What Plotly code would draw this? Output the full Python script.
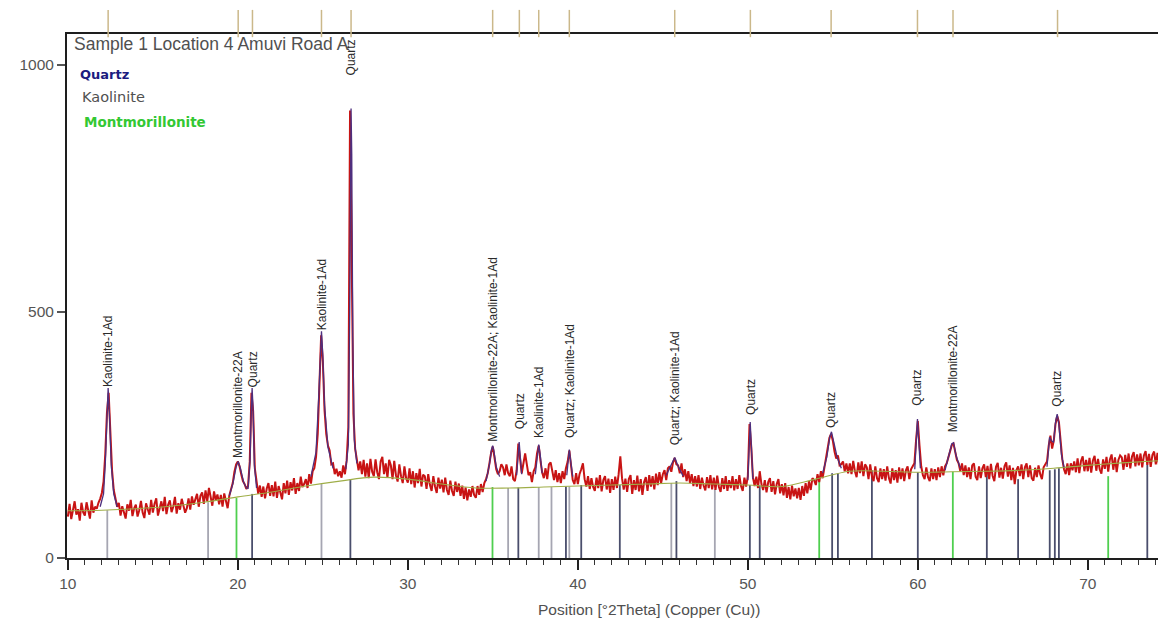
import numpy as np
import plotly.graph_objects as go

# ---------------- data ----------------
two_theta_start = 10.0
two_theta_step = 0.1

# observed counts, one row per degree (d.0 ... d.9)
counts_rows = [
    [84, 110, 79, 101, 115, 88, 99, 76, 112, 93],         # 10
    [86, 113, 95, 80, 117, 92, 104, 100, 112, 120],       # 11
    [132, 155, 210, 295, 335, 262, 178, 138, 120, 104],   # 12
    [112, 86, 105, 91, 80, 109, 96, 118, 85, 101],        # 13
    [108, 84, 97, 116, 92, 81, 111, 99, 88, 118],         # 14
    [92, 110, 121, 86, 104, 115, 95, 124, 89, 108],       # 15
    [117, 93, 104, 124, 90, 111, 98, 120, 106, 92],       # 16
    [101, 121, 98, 125, 108, 119, 130, 104, 126, 133],    # 17
    [110, 137, 115, 142, 124, 106, 135, 117, 129, 109],   # 18
    [128, 104, 131, 112, 101, 127, 138, 152, 175, 190],   # 19
    [196, 186, 170, 156, 150, 140, 146, 195, 335, 298],   # 20
    [182, 150, 130, 147, 124, 145, 121, 141, 152, 126],   # 21
    [148, 125, 155, 122, 146, 133, 119, 152, 131, 157],   # 22
    [128, 154, 137, 162, 130, 152, 136, 165, 144, 150],   # 23
    [160, 142, 170, 151, 176, 182, 205, 252, 360, 452],   # 24
    [398, 300, 252, 228, 218, 190, 192, 170, 181, 166],   # 25
    [176, 163, 188, 170, 198, 265, 908, 610, 292, 222],   # 26
    [204, 178, 196, 170, 199, 165, 192, 162, 201, 175],   # 27
    [166, 200, 174, 160, 196, 205, 170, 192, 163, 199],   # 28
    [188, 160, 197, 168, 155, 190, 166, 152, 186, 162],   # 29
    [153, 182, 150, 176, 143, 172, 152, 181, 145, 169],   # 30
    [166, 140, 170, 148, 136, 166, 145, 132, 163, 141],   # 31
    [159, 133, 163, 138, 128, 157, 136, 126, 155, 134],   # 32
    [151, 126, 147, 120, 143, 117, 139, 124, 146, 128],   # 33
    [122, 146, 128, 150, 134, 152, 160, 172, 192, 214],   # 34
    [226, 202, 180, 170, 176, 190, 184, 168, 190, 172],   # 35
    [166, 186, 160, 156, 178, 232, 206, 172, 192, 212],   # 36
    [190, 168, 174, 154, 176, 184, 212, 228, 198, 174],   # 37
    [162, 182, 160, 190, 194, 172, 158, 178, 154, 172],   # 38
    [152, 176, 160, 182, 195, 218, 188, 158, 150, 172],   # 39
    [150, 170, 180, 192, 160, 145, 166, 140, 162, 144],   # 40
    [136, 163, 142, 168, 135, 158, 166, 139, 161, 132],   # 41
    [160, 138, 165, 142, 170, 206, 162, 139, 161, 134],   # 42
    [160, 168, 130, 158, 138, 167, 135, 160, 128, 154],   # 43
    [164, 136, 168, 145, 166, 139, 171, 148, 174, 152],   # 44
    [170, 178, 158, 182, 186, 175, 194, 203, 190, 188],   # 45
    [172, 192, 164, 180, 156, 176, 152, 170, 146, 166],   # 46
    [145, 168, 140, 163, 147, 137, 164, 142, 168, 139],   # 47
    [163, 138, 167, 144, 134, 162, 140, 166, 136, 158],   # 48
    [142, 166, 137, 160, 140, 168, 146, 136, 163, 145],   # 49
    [166, 272, 226, 164, 146, 165, 142, 176, 150, 138],   # 50
    [158, 133, 154, 162, 134, 156, 129, 150, 160, 131],   # 51
    [150, 127, 152, 122, 144, 119, 147, 125, 141, 121],   # 52
    [142, 118, 146, 126, 152, 131, 156, 138, 162, 158],   # 53
    [148, 170, 154, 176, 162, 184, 198, 220, 244, 252],   # 54
    [238, 216, 202, 208, 188, 190, 196, 176, 192, 172],   # 55
    [192, 170, 197, 176, 164, 194, 172, 196, 166, 190],   # 56
    [184, 160, 190, 166, 156, 186, 162, 154, 182, 160],   # 57
    [180, 157, 186, 162, 151, 182, 158, 178, 153, 184],   # 58
    [160, 182, 156, 178, 186, 160, 180, 186, 192, 240],   # 59
    [278, 228, 186, 168, 160, 184, 164, 156, 182, 160],   # 60
    [180, 158, 184, 164, 186, 168, 186, 192, 204, 219],   # 61
    [229, 232, 214, 199, 192, 176, 192, 168, 188, 164],   # 62
    [184, 160, 188, 192, 165, 158, 186, 162, 182, 190],   # 63
    [164, 187, 160, 191, 167, 156, 185, 193, 163, 183],   # 64
    [161, 186, 194, 165, 188, 158, 183, 150, 178, 186],   # 65
    [166, 190, 160, 184, 192, 164, 188, 162, 157, 183],   # 66
    [164, 188, 170, 160, 184, 190, 196, 228, 248, 222],   # 67
    [238, 272, 288, 276, 232, 200, 180, 170, 192, 168],   # 68
    [192, 178, 196, 174, 202, 172, 197, 206, 176, 199],   # 69
    [176, 203, 173, 198, 207, 177, 201, 180, 171, 200],   # 70
    [181, 205, 175, 200, 210, 179, 204, 174, 199, 208],   # 71
    [204, 179, 209, 185, 212, 182, 206, 215, 186, 210],   # 72
    [188, 212, 184, 208, 217, 189, 211, 185, 209, 216],   # 73
    [190, 213, 185, 209, 188, 212, 182, 206, 210, 187],   # 74
]

# fitted background
background_x = [10, 12, 14, 16, 18, 20, 22, 24, 26, 28, 30, 32, 34, 36, 38, 40, 42, 44, 46,
                48, 50, 52, 54, 56, 58, 60, 62, 64, 66, 68, 70, 72, 74.9]
background_y = [96, 97, 100, 105, 113, 124, 134, 146, 156, 164, 160, 150, 142, 142, 144, 146,
                148, 150, 152, 150, 148, 145, 160, 176, 176, 174, 175, 176, 178, 182, 188, 193, 199]

# calculated profile around identified peaks (None separates peaks)
profile_x = [11.9, 12.1, 12.2, 12.3, 12.37, 12.45, 12.55, 12.7, 12.9, None,
             19.5, 19.7, 19.9, 20.02, 20.15, 20.35, 20.55, None,
             20.6, 20.72, 20.8, 20.84, 20.9, 20.97, 21.1, None,
             24.3, 24.6, 24.75, 24.85, 24.92, 25.0, 25.1, 25.3, 25.6, None,
             26.35, 26.5, 26.58, 26.63, 26.66, 26.7, 26.76, 26.85, 27.0, None,
             34.6, 34.8, 34.92, 34.99, 35.06, 35.2, 35.4, None,
             36.4, 36.5, 36.55, 36.6, 36.7, None,
             37.5, 37.62, 37.7, 37.78, 37.9, None,
             39.35, 39.45, 39.5, 39.56, 39.7, None,
             45.2, 45.5, 45.7, 45.9, 46.2, None,
             50.0, 50.08, 50.14, 50.2, 50.3, None,
             54.4, 54.65, 54.82, 54.92, 55.05, 55.25, 55.5, None,
             59.82, 59.92, 59.98, 60.05, 60.15, None,
             61.6, 61.85, 62.0, 62.1, 62.25, 62.5, None,
             67.6, 67.75, 67.85, 67.98, 68.12, 68.2, 68.3, 68.45, 68.6]
profile_y = [104, 130, 190, 290, 345, 290, 190, 130, 104, None,
             126, 150, 185, 196, 182, 152, 140, None,
             140, 200, 310, 345, 300, 190, 142, None,
             165, 215, 320, 430, 460, 410, 310, 225, 182, None,
             180, 230, 500, 860, 912, 820, 450, 240, 192, None,
             156, 190, 220, 228, 218, 185, 165, None,
             168, 215, 235, 212, 170, None,
             170, 215, 230, 212, 172, None,
             168, 205, 220, 202, 165, None,
             168, 188, 204, 186, 166, None,
             158, 235, 276, 232, 160, None,
             172, 205, 245, 256, 236, 205, 182, None,
             180, 245, 282, 240, 182, None,
             178, 212, 232, 234, 208, 182, None,
             185, 245, 238, 235, 280, 292, 270, 210, 184]

# identified peaks and their labels
peak_pos = [12.37, 20.02, 20.86, 24.92, 26.66, 34.99, 36.56, 37.7, 39.5, 45.7,
            50.15, 54.9, 59.98, 62.07, 68.22]
peak_labels = ["Kaolinite-1Ad", "Montmorillonite-22A", "Quartz", "Kaolinite-1Ad", "Quartz",
               "Montmorillonite-22A; Kaolinite-1Ad", "Quartz", "Kaolinite-1Ad",
               "Quartz; Kaolinite-1Ad", "Quartz; Kaolinite-1Ad", "Quartz", "Quartz", "Quartz",
               "Montmorillonite-22A", "Quartz"]
label_y = [342, 198, 343, 458, 975, 232, 258, 240, 240, 224, 287, 260, 306, 250, 302]

# reference pattern sticks
quartz_pos = [20.84, 26.62, 36.5, 39.3, 40.2, 42.47, 45.8, 50.12, 50.7, 54.96, 55.3, 57.3,
              60.0, 64.06, 65.9, 67.76, 68.06, 68.3, 73.5]
quartz_top = [130, 160, 143, 145, 148, 148, 156, 148, 147, 172, 172, 178,
              174, 176, 160, 178, 180, 182, 190]
kaolinite_pos = [12.32, 18.25, 24.92, 35.9, 37.7, 38.45, 39.5, 45.5, 48.06]
kaolinite_top = [97, 113, 150, 142, 144, 144, 145, 152, 140]
montmorillonite_pos = [19.92, 34.98, 54.2, 62.06, 71.2]
montmorillonite_top = [122, 144, 158, 175, 166]

x_range = [9.95, 74.6]
y_range = [0, 1063]

# ---------------- figure ----------------
counts = [v for row in counts_rows for v in row]
two_theta = np.round(two_theta_start + two_theta_step * np.arange(len(counts)), 2)


def sticks(pos, top):
    xs, ys = [], []
    for p, t in zip(pos, top):
        xs += [p, p, None]
        ys += [0, t, None]
    return xs, ys


fig = go.Figure()

for pos, top, col, w in [(kaolinite_pos, kaolinite_top, "#a6a6b2", 1.8),
                         (quartz_pos, quartz_top, "#4a4e6c", 1.8),
                         (montmorillonite_pos, montmorillonite_top, "#4fcf4f", 1.8)]:
    sx, sy = sticks(pos, top)
    fig.add_trace(go.Scatter(x=sx, y=sy, mode="lines", line=dict(color=col, width=w),
                             hoverinfo="skip"))

fig.add_trace(go.Scatter(x=two_theta, y=counts, mode="lines",
                         line=dict(color="#c81414", width=2.0)))
fig.add_trace(go.Scatter(x=background_x, y=background_y, mode="lines",
                         line=dict(color="#9fae48", width=1.1, shape="spline")))
fig.add_trace(go.Scatter(x=profile_x, y=profile_y, mode="lines",
                         line=dict(color="#4e2f7e", width=1.3), connectgaps=False))

# peak labels
for p, lab, ly in zip(peak_pos, peak_labels, label_y):
    fig.add_annotation(x=p, y=ly, xref="x", yref="y", text=lab, showarrow=False,
                       textangle=-90, xanchor="center", yanchor="bottom",
                       font=dict(family="Liberation Sans, Arial", size=12, color="#2a2a2a"))

# peak markers above the plot
for p in peak_pos:
    fig.add_shape(type="line", xref="x", yref="paper", x0=p, x1=p, y0=0.994, y1=1.046,
                  line=dict(color="#cbb88a", width=1.5))

# title and phase legend
fig.add_annotation(x=0.0045, y=0.981, xref="paper", yref="paper", xanchor="left", yanchor="middle",
                   text="Sample 1 Location 4 Amuvi Road A", showarrow=False,
                   font=dict(family="Liberation Sans, Arial", size=17.5, color="#505050"))
fig.add_annotation(x=0.010, y=0.922, xref="paper", yref="paper", xanchor="left", yanchor="middle",
                   text="<b>Quartz</b>", showarrow=False,
                   font=dict(family="DejaVu Sans", size=13, color="#1c1c80"))
fig.add_annotation(x=0.0115, y=0.880, xref="paper", yref="paper", xanchor="left", yanchor="middle",
                   text="Kaolinite", showarrow=False,
                   font=dict(family="DejaVu Sans", size=14.5, color="#505050"))
fig.add_annotation(x=0.0135, y=0.832, xref="paper", yref="paper", xanchor="left", yanchor="middle",
                   text="<b>Montmorillonite</b>", showarrow=False,
                   font=dict(family="DejaVu Sans", size=13.5, color="#33c833"))
# x axis title
fig.add_annotation(x=0.530, y=-0.099, xref="paper", yref="paper", xanchor="center", yanchor="middle",
                   text="Position [°2Theta] (Copper (Cu))", showarrow=False,
                   font=dict(family="Liberation Sans, Arial", size=15.5, color="#505050"))

# page body adds an 8 px margin, so the figure is 8 px smaller than the window
fig.update_layout(
    width=1158, height=615,
    margin=dict(l=59, r=0, t=26, b=65),
    paper_bgcolor="white", plot_bgcolor="white",
    showlegend=False,
)
fig.update_xaxes(range=x_range, showgrid=False, zeroline=False,
                 showline=True, linecolor="#1e1e1e", linewidth=2, mirror=True,
                 ticks="outside", ticklen=10, tickwidth=1.5, tickcolor="#222",
                 tickvals=[10, 20, 30, 40, 50, 60, 70],
                 minor=dict(dtick=1, tick0=10, ticks="outside", ticklen=5, tickwidth=1.2,
                            tickcolor="#333", showgrid=False),
                 tickfont=dict(family="Liberation Sans, Arial", size=15.5, color="#555555"))
fig.update_yaxes(range=y_range, showgrid=False, zeroline=False,
                 showline=True, linecolor="#1e1e1e", linewidth=2, mirror=False,
                 ticks="outside", ticklen=8, tickwidth=1.5, tickcolor="#555",
                 tickvals=[0, 500, 1000],
                 tickfont=dict(family="Liberation Sans, Arial", size=15.5, color="#555555"))

fig.write_html("out.html")
